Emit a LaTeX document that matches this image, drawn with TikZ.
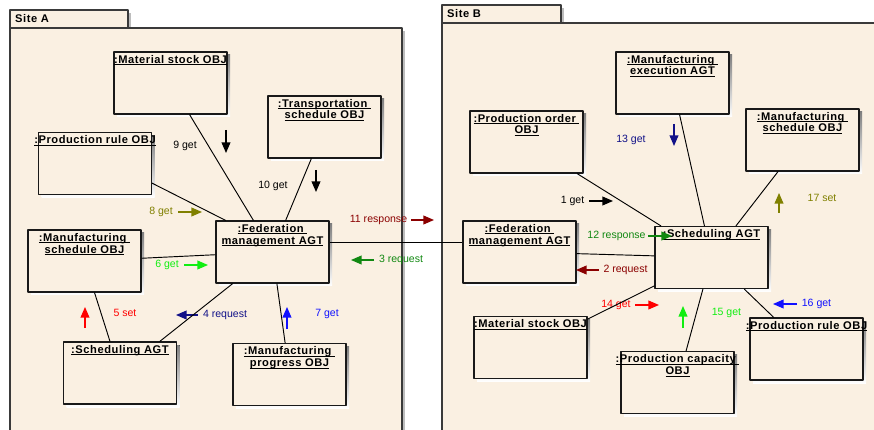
\documentclass[tikz,border=0pt]{standalone}
\usepackage{fontspec}
\setmainfont{Liberation Sans}
\newfontfamily\boxfont[LetterSpace=5]{Liberation Sans}
\usetikzlibrary{arrows.meta}

\definecolor{boxfill}{HTML}{FAF0E2}
\definecolor{edge}{HTML}{3A3A3A}
\definecolor{shade}{HTML}{BDBDBD}
\definecolor{olivec}{HTML}{808000}
\definecolor{darkredc}{HTML}{8B0000}
\definecolor{greenc}{HTML}{118811}
\definecolor{limec}{HTML}{11EE11}
\definecolor{navyc}{HTML}{111188}
\definecolor{bluec}{HTML}{1111FF}

% underlined object name, the rule kept close to the baseline
\newcommand\uname[1]{\underline{\smash{#1}}\vphantom{#1}}

% object box: name, x, y, title (shadow and fill first, then frame, then title)
\newcommand\objbox[4]{%
    \fill[shade] (#2-53.5,#3-28) rectangle (#2+59.5,#3+34);
    \fill[boxfill] (#2-56.5,#3-31) rectangle (#2+56.5,#3+31);
    \node[obj] (#1) at (#2,#3) {};
    \node[ttl] (#1t) at (#1.north) {#4};
}

\tikzset{
    pkg/.style={draw=edge, line width=1pt, fill=boxfill},
    pkgshade/.style={fill=shade},
    obj/.style={
        draw=black!90, line width=0.9pt,
        minimum width=3.39cm, minimum height=1.86cm
    },
    ttl/.style={
        anchor=north, align=center, inner sep=2.8pt,
        font=\boxfont\bfseries\fontsize{9.5}{10.2}\selectfont
    },
    site/.style={anchor=base west, inner sep=0pt, font=\boxfont\bfseries\fontsize{9.5}{10.2}\selectfont},
    msg/.style={inner sep=0pt, font=\fontsize{9}{10}\selectfont},
    tip/.style={line width=1pt, -{Triangle[length=9pt,width=7.5pt]}},
    link/.style={line width=0.8pt}
}

\begin{document}
\begin{tikzpicture}[x=0.03cm, y=-0.03cm, line join=round]

    \useasboundingbox (0,0) rectangle (874,430);

% --- packages ---
    \fill[pkgshade] (13,13) rectangle (131,31);
    \draw[pkg] (10,10) rectangle (128,28);
    \fill[pkgshade] (13,31) rectangle (405,430);
    \draw[pkg] (10,28) rectangle (402,434);
    \node[site] (siteA) at (15,23) {Site A};

    \fill[pkgshade] (445,8) rectangle (564,26);
    \draw[pkg] (442,5) rectangle (561,23);
    \draw[pkg] (442,23) rectangle (878,434);
    \node[site] (siteB) at (447,18) {Site B};

% --- site A objects ---
    \objbox{matA}{170.5}{83}{\uname{:Material stock OBJ}}
    \objbox{trA}{324.5}{127}{\uname{:Transportation\ }\\\uname{schedule OBJ}}
    \objbox{prA}{95}{163.5}{\uname{:Production rule OBJ}}
    \objbox{fedA}{272.5}{252}{\uname{:Federation\ }\\\uname{management AGT}}
    \objbox{msA}{84.5}{261}{\uname{:Manufacturing\ }\\\uname{schedule OBJ}}
    \objbox{schA}{120}{373}{\uname{:Scheduling AGT}}
    \objbox{mpA}{289.5}{374.5}{\uname{:Manufacturing\ }\\\uname{progress OBJ}}

% --- site B objects ---
    \objbox{meB}{672.5}{83}{\uname{:Manufacturing\ }\\\uname{execution AGT}}
    \objbox{poB}{526.5}{142}{\uname{:Production order\ }\\\uname{OBJ}}
    \objbox{msB}{802.5}{140}{\uname{:Manufacturing\ }\\\uname{schedule OBJ}}
    \objbox{fedB}{519.5}{252}{\uname{:Federation\ }\\\uname{management AGT}}
    \objbox{schB}{711.5}{257.5}{\uname{:Scheduling AGT}}
    \objbox{matB}{530.5}{347.5}{\uname{:Material stock OBJ}}
    \objbox{pcB}{677.5}{382.5}{\uname{:Production capacity\ }\\\uname{OBJ}}
    \objbox{prB}{806.5}{349}{\uname{:Production rule OBJ}}

% --- messages in site A ---
    \node[msg] (m9) at (185,146) {9 get};
    \draw[tip] (226,130) -- (226,153);
    \node[msg] (m10) at (273,186) {10 get};
    \draw[tip] (316,170) -- (316,192);
    \node[msg, text=olivec] (m8) at (161,212) {8 get};
    \draw[tip, olivec] (178,212) -- (202,212);
    \node[msg, text=darkredc] (m11) at (378.5,220) {11 response};
    \draw[tip, darkredc] (411,220) -- (434,220);
    \node[msg, text=greenc] (m3) at (401,259.5) {3 request};
    \draw[tip, greenc] (374,260) -- (351,260);
    \node[msg, text=limec] (m6) at (167,265) {6 get};
    \draw[tip, limec] (184,265) -- (208,265);
    \node[msg, text=red] (m5) at (125,313) {5 set};
    \draw[tip, red] (85,328) -- (85,307);
    \node[msg, text=navyc] (m4) at (225,315) {4 request};
    \draw[tip, navyc] (198,315) -- (176,315);
    \node[msg, text=bluec] (m7) at (327,314) {7 get};
    \draw[tip, bluec] (287,329) -- (287,307);

% --- messages in site B ---
    \node[msg, text=navyc] (m13) at (631,140) {13 get};
    \draw[tip, navyc] (674,124) -- (674,146);
    \node[msg] (m1) at (572.5,201) {1 get};
    \draw[tip] (589,201) -- (613,201);
    \node[msg, text=olivec] (m17) at (822,198) {17 set};
    \draw[tip, olivec] (779,213) -- (779,193);
    \node[msg, text=greenc] (m12) at (616.5,236) {12 response};
    \draw[tip, greenc] (648,236) -- (672,236);
    \node[msg, text=darkredc] (m2) at (625.5,270) {2 request};
    \draw[tip, darkredc] (599,270) -- (576,270);
    \node[msg, text=red] (m14) at (616,305) {14 get};
    \draw[tip, red] (635,305) -- (659,305);
    \node[msg, text=limec] (m15) at (726.5,313) {15 get};
    \draw[tip, limec] (683,328) -- (683,306);
    \node[msg, text=bluec] (m16) at (816.5,304) {16 get};
    \draw[tip, bluec] (797,304) -- (773,304);

% --- links ---
    \draw[link] (matA) -- (fedA);
    \draw[link] (trA) -- (fedA);
    \draw[link] (prA.-19) -- (fedA.146);
    \draw[link] (msA) -- (fedA);
    \draw[link] (msA) -- (schA);
    \draw[link] (fedA) -- (schA);
    \draw[link] (fedA) -- (mpA);
    \draw[link] ([yshift=8.5pt]fedA.east) -- ([yshift=8.5pt]fedB.west);

    \draw[link] (poB) -- (schB);
    \draw[link] (meB) -- (schB);
    \draw[link] (msB) -- (schB);
    \draw[link] (fedB) -- (schB);
    \draw[link] (schB) -- (matB);
    \draw[link] (schB) -- (pcB);
    \draw[link] (schB) -- (prB);

\end{tikzpicture}
\end{document}
